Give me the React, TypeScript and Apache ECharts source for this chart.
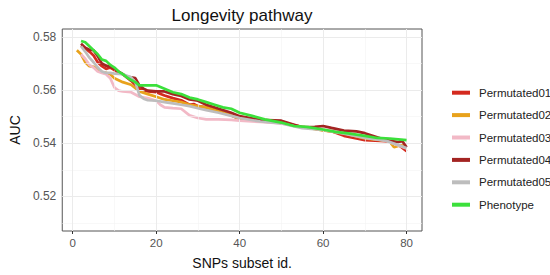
import React, { useEffect, useRef } from "react";
import * as echarts from "echarts";

const seriesNames = ["Permutated01", "Permutated02", "Permutated03", "Permutated04", "Permutated05", "Phenotype"];
const seriesColors = ["#d42a1f", "#e8a21c", "#f2b9c6", "#a32422", "#bdbdbd", "#3be03b"];

const p01X = [2,3,4,5,6,7,8,9,10,12,14,16,18,20,22,24,26,28,29,30,32,35,38,40,45,50,55,58,62,65,68,70,75,78,80];
const p01Y = [0.5768,0.5758,0.5745,0.573,0.5705,0.569,0.568,0.5685,0.5675,0.566,0.5635,0.5605,0.5595,0.5592,0.558,0.557,0.5562,0.5545,0.5548,0.554,0.5535,0.552,0.5505,0.549,0.5485,0.5477,0.5462,0.5455,0.5445,0.5428,0.5418,0.5412,0.5408,0.5395,0.537];

const p02X = [1,2,3,4,5,6,7,8,9,10,12,14,16,18,20,22,24,26,28,30,32,35,38,40,45,50,55,60,65,70,75,76,77,78,79,80];
const p02Y = [0.575,0.5735,0.5705,0.569,0.5688,0.568,0.5668,0.5665,0.566,0.5645,0.563,0.562,0.5595,0.5585,0.5575,0.5565,0.556,0.5555,0.5545,0.554,0.5535,0.552,0.5505,0.5492,0.5483,0.5477,0.5462,0.5448,0.5438,0.5418,0.541,0.5405,0.5385,0.539,0.5392,0.5385];

const p03X = [2,3,4,5,6,7,8,9,10,11,12,14,16,18,20,21,22,24,26,28,30,32,35,38,40,45,50,55,60,65,70,75,80];
const p03Y = [0.5735,0.5718,0.5695,0.5685,0.567,0.5665,0.566,0.5645,0.561,0.5598,0.5595,0.5592,0.5575,0.557,0.556,0.5545,0.5535,0.5532,0.553,0.5505,0.5495,0.549,0.549,0.5488,0.5485,0.548,0.5475,0.5462,0.5452,0.5442,0.5422,0.541,0.538];

const p04X = [2,3,4,5,6,7,8,9,10,11,12,13,14,15,16,17,18,20,22,24,26,28,30,32,35,38,40,45,50,55,58,60,62,65,68,70,75,78,79,80];
const p04Y = [0.5775,0.576,0.5752,0.575,0.5728,0.57,0.5692,0.5688,0.568,0.567,0.566,0.565,0.5648,0.5645,0.5618,0.5605,0.5598,0.5595,0.5595,0.5585,0.5578,0.5565,0.556,0.5545,0.553,0.5515,0.5502,0.5488,0.5485,0.546,0.5462,0.5465,0.5458,0.5448,0.5445,0.5438,0.5412,0.5405,0.5408,0.5385];

const p05X = [2,3,4,5,6,7,8,9,10,12,14,15,16,17,18,20,22,24,26,28,30,32,35,38,40,45,50,55,60,65,70,75,80];
const p05Y = [0.5765,0.5745,0.5722,0.5705,0.5685,0.567,0.5665,0.5665,0.5662,0.566,0.5648,0.563,0.558,0.5568,0.5562,0.556,0.5555,0.555,0.5545,0.554,0.5532,0.5525,0.5515,0.5503,0.5495,0.5482,0.5475,0.5457,0.545,0.5436,0.542,0.541,0.5382];

const phenoX = [2,3,4,5,6,7,8,9,10,11,12,13,14,15,16,18,20,22,24,26,28,30,32,34,36,38,40,43,46,50,53,56,60,63,66,70,73,76,80];
const phenoY = [0.5785,0.578,0.5765,0.575,0.5735,0.5715,0.571,0.5695,0.5685,0.567,0.566,0.5648,0.5638,0.563,0.5618,0.5618,0.5618,0.5605,0.5592,0.5585,0.5572,0.5565,0.5555,0.5545,0.5535,0.553,0.5515,0.5503,0.549,0.5478,0.5465,0.5462,0.5452,0.5443,0.5437,0.5428,0.542,0.5418,0.5412];

const xTickLabels = [0, 20, 40, 60, 80];
const yTickLabels = [0.52, 0.54, 0.56, 0.58];
const xMajorGrid = [0, 20, 40, 60, 80];
const xMinorGrid = [10, 30, 50, 70];
const yMajorGrid = [0.52, 0.54, 0.56, 0.58];
const yMinorGrid = [0.51, 0.53, 0.55, 0.57];

const allX = [p01X, p02X, p03X, p04X, p05X, phenoX];
const allY = [p01Y, p02Y, p03Y, p04Y, p05Y, phenoY];

export default function App() {
  const ref = useRef<HTMLDivElement>(null);
  useEffect(() => {
    if (!ref.current) return;
    const chart = echarts.init(ref.current, null, { renderer: "svg" });
    const gridMajor = { color: "#ebebeb", width: 1, type: "solid" };
    const gridMinor = { color: "#f3f3f3", width: 0.6, type: "solid" };
    const gridSeries: any = {
      type: "line",
      data: [],
      silent: true,
      z: 0,
      markLine: {
        silent: true,
        symbol: "none",
        label: { show: false },
        animation: false,
        data: [
          ...xMinorGrid.map((v) => ({ xAxis: v, lineStyle: gridMinor })),
          ...yMinorGrid.map((v) => ({ yAxis: v, lineStyle: gridMinor })),
          ...xMajorGrid.map((v) => ({ xAxis: v, lineStyle: gridMajor })),
          ...yMajorGrid.map((v) => ({ yAxis: v, lineStyle: gridMajor })),
        ],
      },
    };
    const lineSeries = seriesNames.map((name, i) => ({
      name,
      type: "line",
      data: allX[i].map((x, j) => [x, allY[i][j]]),
      showSymbol: false,
      symbol: "none",
      lineStyle: { color: seriesColors[i], width: 2.7 },
      itemStyle: { color: seriesColors[i] },
      z: 2 + i,
    }));
    chart.setOption({
      animation: false,
      textStyle: { fontFamily: "Liberation Sans, Arial, sans-serif" },
      title: {
        text: "Longevity pathway",
        left: 237,
        top: 2,
        textAlign: "center",
        textStyle: { fontSize: 17, fontWeight: "normal", color: "#111" },
      },
      grid: {
        left: 51.5,
        right: 128,
        top: 29,
        bottom: 38.5,
        show: true,
        borderColor: "#555",
        borderWidth: 1,
        backgroundColor: "#fff",
      },
      legend: {
        orient: "vertical",
        left: 447,
        top: 81.7,
        itemWidth: 18,
        itemHeight: 4,
        itemGap: 10.4,
        icon: "rect",
        data: seriesNames,
        textStyle: { fontSize: 11.5, lineHeight: 12, color: "#222", padding: [0, 0, 0, 4] },
      },
      xAxis: {
        type: "value",
        min: -2.5,
        max: 83.7,
        name: "SNPs subset id.",
        nameLocation: "middle",
        nameGap: 25,
        nameTextStyle: { fontSize: 14, color: "#111" },
        axisLine: { show: false },
        splitLine: { show: false },
        axisTick: { show: true, customValues: xTickLabels, length: 3, lineStyle: { color: "#333" } },
        axisLabel: { customValues: xTickLabels, color: "#555", fontSize: 11.5, margin: 6 },
      },
      yAxis: {
        type: "value",
        min: 0.507,
        max: 0.583,
        name: "AUC",
        nameLocation: "middle",
        nameGap: 33,
        nameTextStyle: { fontSize: 14, color: "#111" },
        axisLine: { show: false },
        splitLine: { show: false },
        axisTick: { show: true, customValues: yTickLabels, length: 3, lineStyle: { color: "#333" } },
        axisLabel: {
          customValues: yTickLabels,
          color: "#555",
          fontSize: 12,
          margin: 6,
          formatter: (v: number) => v.toFixed(2),
        },
      },
      series: [gridSeries, ...lineSeries],
    });
    return () => chart.dispose();
  }, []);
  return <div ref={ref} style={{ position: "absolute", left: 0, top: 0, width: 550, height: 275 }} />;
}
